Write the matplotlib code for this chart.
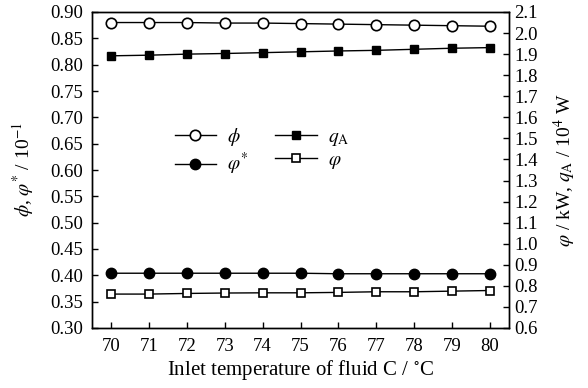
"""
Inlet temperature of fluid C vs. phi, phi*, q_A and varphi (twin y axes).
"""

import matplotlib
matplotlib.use('Agg')
import matplotlib.pyplot as plt

plt.rcParams['font.family'] = ['Liberation Serif', 'DejaVu Serif']
plt.rcParams['mathtext.fontset'] = 'stix'
plt.rcParams['font.size'] = 13

# Данные
temp = [70, 71, 72, 73, 74, 75, 76, 77, 78, 79, 80]
phi = [0.880, 0.880, 0.880, 0.879, 0.879, 0.878, 0.877, 0.876, 0.875, 0.874, 0.873]
phi_star = [0.404, 0.404, 0.404, 0.404, 0.404, 0.404, 0.403, 0.403, 0.403, 0.403, 0.403]
q_a = [1.892, 1.895, 1.900, 1.903, 1.907, 1.911, 1.915, 1.918, 1.923, 1.928, 1.931]
varphi = [0.761, 0.761, 0.764, 0.766, 0.767, 0.767, 0.769, 0.772, 0.772, 0.775, 0.778]

left_ticks = [0.30, 0.35, 0.40, 0.45, 0.50, 0.55, 0.60, 0.65, 0.70, 0.75, 0.80, 0.85, 0.90]
right_ticks = [0.6, 0.7, 0.8, 0.9, 1.0, 1.1, 1.2, 1.3, 1.4, 1.5, 1.6, 1.7, 1.8, 1.9, 2.0, 2.1]

fig = plt.figure(figsize=(5.88, 3.88), dpi=100)
ax = fig.add_axes([92 / 588, 60 / 388, 417 / 588, 316 / 388])
ax2 = ax.twinx()

ms = 7.5
l1, = ax.plot(temp, phi, '-o', color='black', lw=1.0, ms=ms,
              markerfacecolor='white', markeredgewidth=1.2)
l2, = ax.plot(temp, phi_star, '-o', color='black', lw=1.0, ms=ms)
l3, = ax2.plot(temp, q_a, '-s', color='black', lw=1.0, ms=6.3)
l4, = ax2.plot(temp, varphi, '-s', color='black', lw=1.0, ms=6.3,
               markerfacecolor='white', markeredgewidth=1.2)

ax.set_xlim(69.5, 80.5)
ax.set_ylim(0.30, 0.90)
ax2.set_ylim(0.6, 2.1)
ax.set_xticks(temp)
ax.set_yticks(left_ticks)
ax.set_yticklabels([f'{v:.2f}' for v in left_ticks])
ax2.set_yticks(right_ticks)
ax2.set_yticklabels([f'{v:.1f}' for v in right_ticks])

for a in (ax, ax2):
    a.tick_params(direction='in', length=4, width=1, labelsize=13.5)
    for s in a.spines.values():
        s.set_linewidth(1.0)
ax.tick_params(axis='y', pad=6.5)
ax.tick_params(axis='x', pad=7)
ax2.tick_params(axis='y', pad=4)

ax.set_xlabel('Inlet temperature of fluid C / $^{\\circ}$C', fontsize=15, labelpad=2)
ax.set_ylabel('$\\phi$, $\\varphi^{*}$ / 10$^{-1}$', fontsize=14, labelpad=10)
ax2.set_ylabel('$\\varphi$ / kW, $q_{\\rm A}$ / 10$^{4}$ W', fontsize=14, labelpad=10)

ax.legend([l1, l2, l3, l4],
          ['$\\phi$', '$\\varphi^{*}$', '$q_{\\rm A}$', '$\\varphi$'],
          ncol=2, frameon=False, fontsize=14, handlelength=2.15,
          handletextpad=0.55, columnspacing=1.4, labelspacing=0.2,
          loc='upper left', bbox_to_anchor=(157 / 588, 1 - 108 / 388),
          bbox_transform=fig.transFigure)

plt.savefig('out.png', dpi=100, facecolor='white')
